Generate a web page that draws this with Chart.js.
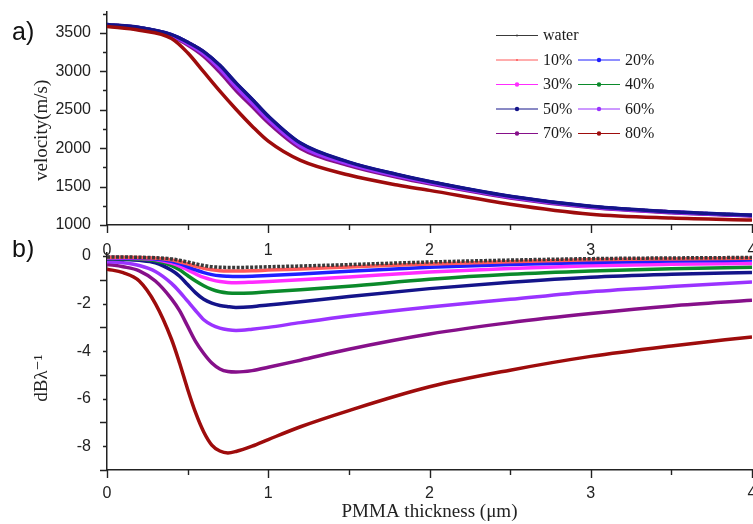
<!DOCTYPE html>
<html>
<head>
<meta charset="utf-8">
<script src="https://cdn.jsdelivr.net/npm/chart.js@4.4.0/dist/chart.umd.min.js"></script>
<style>
html, body { margin:0; padding:0; background:#fff; overflow:hidden; }
#wrap { position:relative; width:753px; height:524px; overflow:hidden; background:#fff; }
#velChart { position:absolute; left:0; top:0; }
#lossChart { position:absolute; left:0; top:240px; }
</style>
</head>
<body>
<div id="wrap">
<canvas id="velChart" width="772" height="260"></canvas>
<canvas id="lossChart" width="772" height="284"></canvas>
</div>
<script>
// series names and colours
const seriesLabels = ['water', '10%', '20%', '30%', '40%', '50%', '60%', '70%', '80%'];
const seriesColors = ['#3a3a3a', '#ff5a5a', '#1f1fff', '#ff2cff', '#0b8a2b', '#14148a', '#9a33ff', '#86108a', '#9e0c0c'];

// tick labels
const xTicks = [0, 1, 2, 3, 4];
const velTicks = [1000, 1500, 2000, 2500, 3000, 3500];
const lossTicks = [0, -2, -4, -6, -8];

// a) velocity (m/s) vs PMMA thickness (um)
const xA = [0, 0.2, 0.4, 0.5, 0.6, 0.7, 0.8, 0.9, 1.0, 1.2, 1.5, 1.8, 2.0, 2.5, 3.0, 3.5, 4.0];
const velWater = [3605, 3566, 3472, 3374, 3250, 3070, 2840, 2628, 2408, 2058, 1812, 1652, 1562, 1370, 1240, 1170, 1125];
const vel10 = [3605, 3566, 3472, 3373, 3249, 3068, 2838, 2626, 2406, 2056, 1811, 1651, 1561, 1369, 1239, 1169, 1124];
const vel20 = [3607, 3568, 3474, 3376, 3252, 3072, 2844, 2632, 2412, 2062, 1815, 1655, 1564, 1372, 1242, 1171, 1126];
const vel30 = [3604, 3564, 3469, 3369, 3243, 3060, 2828, 2615, 2396, 2048, 1806, 1647, 1558, 1367, 1237, 1168, 1123];
const vel40 = [3604, 3564, 3468, 3368, 3241, 3057, 2825, 2612, 2393, 2046, 1805, 1646, 1557, 1366, 1237, 1167, 1123];
const vel50 = [3608, 3569, 3476, 3378, 3255, 3076, 2848, 2636, 2416, 2065, 1818, 1657, 1566, 1374, 1243, 1172, 1127];
const vel60 = [3602, 3560, 3462, 3357, 3222, 3030, 2795, 2582, 2368, 2025, 1792, 1636, 1548, 1361, 1233, 1164, 1121];
const vel70 = [3598, 3553, 3452, 3340, 3192, 2985, 2750, 2540, 2330, 1996, 1772, 1620, 1535, 1352, 1226, 1159, 1118];
const vel80 = [3582, 3532, 3425, 3240, 2990, 2740, 2505, 2285, 2090, 1840, 1650, 1520, 1450, 1270, 1140, 1090, 1065];

// b) attenuation (dB per wavelength) vs PMMA thickness (um)
const xB = [0, 0.1, 0.2, 0.3, 0.4, 0.45, 0.5, 0.55, 0.6, 0.65, 0.7, 0.75, 0.8, 0.9, 1.0, 1.2, 1.5, 2.0, 2.5, 3.0, 3.5, 4.0];
const lossWater = [-0.04, -0.04, -0.05, -0.07, -0.12, -0.18, -0.25, -0.33, -0.4, -0.45, -0.47, -0.48, -0.48, -0.47, -0.45, -0.42, -0.36, -0.25, -0.17, -0.11, -0.08, -0.06];
const loss10 = [-0.05, -0.05, -0.06, -0.09, -0.16, -0.24, -0.33, -0.43, -0.52, -0.58, -0.62, -0.63, -0.63, -0.62, -0.59, -0.54, -0.46, -0.33, -0.24, -0.16, -0.12, -0.09];
const loss20 = [-0.06, -0.07, -0.08, -0.12, -0.22, -0.32, -0.45, -0.58, -0.7, -0.78, -0.83, -0.85, -0.86, -0.85, -0.82, -0.76, -0.64, -0.47, -0.36, -0.27, -0.21, -0.17];
const loss30 = [-0.08, -0.09, -0.1, -0.15, -0.3, -0.42, -0.58, -0.75, -0.9, -1.0, -1.07, -1.11, -1.12, -1.1, -1.07, -1.0, -0.88, -0.67, -0.52, -0.41, -0.35, -0.31];
const loss40 = [-0.1, -0.11, -0.13, -0.2, -0.4, -0.58, -0.82, -1.05, -1.25, -1.4, -1.5, -1.55, -1.57, -1.55, -1.5, -1.42, -1.27, -0.98, -0.77, -0.63, -0.53, -0.47];
const loss50 = [-0.12, -0.14, -0.18, -0.28, -0.6, -0.85, -1.2, -1.55, -1.82, -1.98, -2.08, -2.13, -2.16, -2.13, -2.06, -1.92, -1.7, -1.37, -1.1, -0.89, -0.77, -0.69];
const loss60 = [-0.24, -0.28, -0.4, -0.65, -1.15, -1.5, -1.9, -2.3, -2.68, -2.9, -3.03, -3.1, -3.13, -3.08, -3.0, -2.8, -2.52, -2.14, -1.82, -1.5, -1.28, -1.09];
const loss70 = [-0.35, -0.45, -0.62, -1.05, -1.8, -2.3, -2.95, -3.6, -4.1, -4.5, -4.75, -4.86, -4.88, -4.82, -4.68, -4.38, -3.92, -3.28, -2.8, -2.42, -2.1, -1.86];
const loss80 = [-0.55, -0.7, -1.05, -2.0, -3.5, -4.5, -5.6, -6.6, -7.4, -7.95, -8.2, -8.28, -8.22, -8.0, -7.72, -7.18, -6.5, -5.5, -4.8, -4.22, -3.78, -3.4];

const velSeries = [velWater, vel10, vel20, vel30, vel40, vel50, vel60, vel70, vel80];
const lossSeries = [lossWater, loss10, loss20, loss30, loss40, loss50, loss60, loss70, loss80];

const sansFont = '"Liberation Sans", Arial, sans-serif';
const serifFont = '"Liberation Serif", "Times New Roman", "DejaVu Serif", serif';

function pairs(xs, ys){
    return ys.map((y, i) => ({x: xs[i], y: y}));
}

function makeDatasets(xs, series, orders){
    return series.map((ys, i) => ({
        label: seriesLabels[i],
        data: pairs(xs, ys),
        borderColor: seriesColors[i],
        backgroundColor: seriesColors[i],
        borderWidth: 3.5,
        borderDash: i === 0 ? [3, 1.5] : [],
        pointRadius: 0,
        cubicInterpolationMode: 'monotone',
        order: orders ? orders[i] : i
    }));
}

// outward major / minor tick marks, like the original plotting program
const axisTicks = {
    id: 'axisTicks',
    afterDraw(chart, args, opts){
        const ctx = chart.ctx;
        const area = chart.chartArea;
        const xs = chart.scales.x, ys = chart.scales.y;
        ctx.save();
        ctx.strokeStyle = '#222';
        ctx.lineWidth = 1.4;
        ctx.beginPath();
        for (let v = xs.min; v <= xs.max + 1e-9; v += opts.xMinor){
            const major = Math.abs(v / opts.xMajor - Math.round(v / opts.xMajor)) < 1e-6;
            const px = Math.round(xs.getPixelForValue(v)) + 0.5;
            ctx.moveTo(px, area.bottom);
            ctx.lineTo(px, area.bottom + (major ? 8 : 5));
        }
        for (let v = opts.yStart; v <= ys.max + 1e-9; v += opts.yMinor){
            const major = Math.abs((v - opts.yStart) / opts.yMajor - Math.round((v - opts.yStart) / opts.yMajor)) < 1e-6;
            const py = Math.round(ys.getPixelForValue(v)) + 0.5;
            ctx.moveTo(area.left, py);
            ctx.lineTo(area.left - (major ? 7 : 4), py);
        }
        ctx.stroke();
        if (opts.panel){
            ctx.fillStyle = '#111';
            ctx.font = '25px ' + sansFont;
            ctx.textBaseline = 'alphabetic';
            ctx.fillText(opts.panel, 12, opts.panelY);
        }
        ctx.restore();
    }
};

// two-column legend box inside panel a
const boxLegend = {
    id: 'boxLegend',
    afterDraw(chart, args, opts){
        if (!opts.rows) return;
        const ctx = chart.ctx;
        ctx.save();
        ctx.font = '16px ' + serifFont;
        ctx.textBaseline = 'middle';
        opts.rows.forEach((row, r) => {
            row.forEach((di, c) => {
                const ds = chart.data.datasets[di];
                const x0 = opts.left + c * opts.colGap;
                const y = opts.top + r * opts.rowGap;
                ctx.strokeStyle = ds.borderColor;
                ctx.lineWidth = 1;
                ctx.beginPath();
                ctx.moveTo(x0, y + 0.5);
                ctx.lineTo(x0 + 42, y + 0.5);
                ctx.stroke();
                ctx.fillStyle = ds.borderColor;
                ctx.beginPath();
                ctx.arc(x0 + 21, y + 0.5, di < 2 ? 1 : 2.2, 0, Math.PI * 2);
                ctx.fill();
                ctx.fillStyle = '#1a1a1a';
                ctx.fillText(ds.label, x0 + 47, y + 1);
            });
        });
        ctx.restore();
    }
};

// keep the plot area exactly where the layout padding puts it
function noScalePadding(s){
    s.paddingTop = 0;
    s.paddingBottom = 0;
    s.paddingLeft = 0;
    s.paddingRight = 0;
}

function scaleX(height, padding, title){
    return {
        type: 'linear',
        min: 0,
        max: 4,
        afterBuildTicks: s => { s.ticks = xTicks.map(v => ({value: v})); },
        afterFit: s => { s.height = height; noScalePadding(s); },
        grid: {display: true, drawOnChartArea: false, drawTicks: false},
        border: {display: true, color: '#222', width: 1.5},
        ticks: {
            padding: padding,
            color: '#222',
            font: {family: sansFont, size: 16},
            maxRotation: 0,
            callback: v => String(v)
        },
        title: title ? {
            display: true,
            text: title,
            color: '#222',
            font: {family: serifFont, size: 19},
            padding: {top: 0, bottom: 1}
        } : {display: false}
    };
}

function scaleY(min, max, tickList, title){
    return {
        type: 'linear',
        min: min,
        max: max,
        afterBuildTicks: s => { s.ticks = tickList.map(v => ({value: v})); },
        afterFit: s => { s.width = 107; noScalePadding(s); },
        grid: {display: true, drawOnChartArea: false, drawTicks: false},
        border: {display: true, color: '#222', width: 1.5},
        ticks: {
            padding: 16,
            color: '#222',
            font: {family: sansFont, size: 16},
            callback: v => String(v)
        },
        title: {
            display: true,
            text: title,
            color: '#222',
            font: {family: serifFont, size: 19},
            padding: {top: 31, bottom: 0}
        }
    };
}

const velChart = new Chart(document.getElementById('velChart'), {
    type: 'line',
    data: {datasets: makeDatasets(xA, velSeries, [9, 8, 7, 6, 5, 2, 3, 4, 1])},
    options: {
        responsive: false,
        animation: false,
        layout: {padding: {top: 12, right: 20, bottom: 0, left: 0}},
        plugins: {
            legend: {display: false},
            tooltip: {enabled: false},
            axisTicks: {xMajor: 1, xMinor: 0.5, yStart: 1000, yMajor: 500, yMinor: 250, panel: 'a)', panelY: 40},
            boxLegend: {rows: [[0], [1, 2], [3, 4], [5, 6], [7, 8]], left: 496, colGap: 82, top: 35, rowGap: 24.5}
        },
        scales: {
            x: scaleX(35, 16, null),
            y: scaleY(1000, 3770, velTicks, 'velocity(m/s)\u00a0\u00a0\u00a0\u00a0\u00a0')
        }
    },
    plugins: [axisTicks, boxLegend]
});

const lossChart = new Chart(document.getElementById('lossChart'), {
    type: 'line',
    data: {datasets: makeDatasets(xB, lossSeries, null)},
    options: {
        responsive: false,
        animation: false,
        layout: {padding: {top: 13.2, right: 20, bottom: 0, left: 0}},
        plugins: {
            legend: {display: false},
            tooltip: {enabled: false},
            axisTicks: {xMajor: 1, xMinor: 0.5, yStart: -9, yMajor: 2, yMinor: 1, panel: 'b)', panelY: 17}
        },
        scales: {
            x: scaleX(54, 14, 'PMMA thickness (\u03bcm)'),
            y: scaleY(-9, 0.12, lossTicks, 'dB\u03bb\u207b\u00b9\u00a0\u00a0\u00a0\u00a0\u00a0\u00a0\u00a0')
        }
    },
    plugins: [axisTicks]
});
</script>
</body>
</html>
